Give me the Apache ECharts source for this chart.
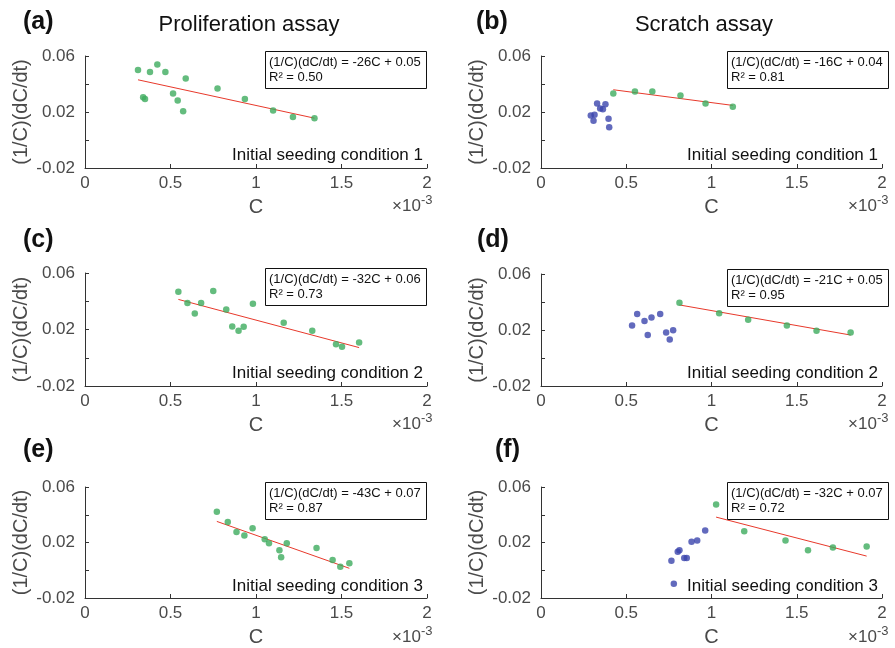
<!DOCTYPE html>
<html><head><meta charset="utf-8">
<script src="https://cdn.jsdelivr.net/npm/echarts@6/dist/echarts.min.js"></script>
<style>html,body{margin:0;padding:0;background:#fff}#c{width:895px;height:648px}</style>
</head><body><div id="c"></div>
<script>
// C values are given in units of 1e-3 (axis shows ×10^-3)
const xTicks = [0, 0.5, 1, 1.5, 2];
const yTicks = [-0.02, 0, 0.02, 0.04, 0.06];
const yLabelsShown = ['-0.02', '0.02', '0.06'];
const panelLetters = ['(a)', '(b)', '(c)', '(d)', '(e)', '(f)'];
const columnTitles = ['Proliferation assay', 'Scratch assay'];
const conditionLabels = ['Initial seeding condition 1', 'Initial seeding condition 1',
  'Initial seeding condition 2', 'Initial seeding condition 2',
  'Initial seeding condition 3', 'Initial seeding condition 3'];
const equations = ['(1/C)(dC/dt) = -26C + 0.05', '(1/C)(dC/dt) = -16C + 0.04',
  '(1/C)(dC/dt) = -32C + 0.06', '(1/C)(dC/dt) = -21C + 0.05',
  '(1/C)(dC/dt) = -43C + 0.07', '(1/C)(dC/dt) = -32C + 0.07'];
const r2Labels = ['R² = 0.50', 'R² = 0.81', 'R² = 0.73', 'R² = 0.95', 'R² = 0.87', 'R² = 0.72'];

const greenA = [[0.310,0.050],[0.380,0.0485],[0.423,0.054],[0.470,0.0485],[0.589,0.044],[0.340,0.0306],[0.351,0.0292],[0.515,0.0333],[0.542,0.0282],[0.574,0.0206],[0.775,0.0368],[0.935,0.0292],[1.100,0.0211],[1.216,0.0165],[1.342,0.0156]];
const blueA = [];
const fitA = [[0.310,0.0430],[1.342,0.0156]];

const blueB = [[0.292,0.0175],[0.314,0.018],[0.308,0.0137],[0.329,0.0261],[0.347,0.0225],[0.363,0.022],[0.378,0.0256],[0.396,0.0151],[0.400,0.0091]];
const greenB = [[0.424,0.0333],[0.551,0.0347],[0.653,0.0347],[0.818,0.0318],[0.965,0.0261],[1.125,0.0237]];
const fitB = [[0.424,0.0359],[1.125,0.0247]];

const greenC = [[0.546,0.0467],[0.599,0.0387],[0.642,0.0314],[0.679,0.0387],[0.750,0.0472],[0.826,0.0342],[0.861,0.0221],[0.898,0.0191],[0.928,0.0219],[0.982,0.0382],[1.162,0.0247],[1.329,0.0191],[1.468,0.0096],[1.503,0.0077],[1.603,0.0108]];
const blueC = [];
const fitC = [[0.546,0.0413],[1.603,0.0072]];

const blueD = [[0.534,0.0233],[0.564,0.0314],[0.607,0.0264],[0.626,0.0164],[0.648,0.0290],[0.699,0.0314],[0.734,0.0183],[0.755,0.0133],[0.775,0.0198]];
const greenD = [[0.812,0.0395],[1.045,0.0319],[1.215,0.0274],[1.442,0.0233],[1.616,0.0195],[1.816,0.0183]];
const fitD = [[0.812,0.0379],[1.816,0.0164]];

const greenE = [[0.771,0.0421],[0.835,0.0348],[0.886,0.0276],[0.932,0.0250],[0.980,0.0302],[1.051,0.0224],[1.076,0.0195],[1.137,0.0145],[1.147,0.0093],[1.180,0.0195],[1.354,0.0160],[1.448,0.0074],[1.493,0.0026],[1.546,0.0050]];
const blueE = [];
const fitE = [[0.771,0.0352],[1.546,0.0014]];

const blueF = [[0.765,0.0069],[0.779,-0.0098],[0.802,0.0133],[0.812,0.0145],[0.840,0.0088],[0.855,0.0088],[0.883,0.0205],[0.916,0.0214],[0.963,0.0286]];
const greenF = [[1.027,0.0474],[1.192,0.0281],[1.434,0.0214],[1.566,0.0145],[1.712,0.0164],[1.910,0.0171]];
const fitF = [[1.027,0.0383],[1.910,0.0102]];

const greens = [greenA, greenB, greenC, greenD, greenE, greenF];
const blues = [blueA, blueB, blueC, blueD, blueE, blueF];
const fits = [fitA, fitB, fitC, fitD, fitE, fitF];

// layout (pixels)
const FONT = 'Liberation Sans, Arial, Helvetica, sans-serif';
const GREEN = '#3dab5e', BLUE = '#3b45ad', RED = '#e8392b';
const AXIS = '#333333', LABEL = '#4a4a4a';
const grids = [
  {left: 85, top: 56, width: 342, height: 112},
  {left: 541, top: 56, width: 341, height: 112},
  {left: 85, top: 273, width: 342, height: 113},
  {left: 541, top: 274, width: 341, height: 112},
  {left: 85, top: 487, width: 342, height: 112},
  {left: 541, top: 487, width: 341, height: 112}
];
const letterPos = [[23, 22], [476, 22], [23, 240], [477, 240], [23, 450], [495, 450]];
const boxLeft = [265, 727];

const option = {
  backgroundColor: '#fff',
  animation: false,
  grid: grids.map(g => ({left: g.left, top: g.top, width: g.width, height: g.height, containLabel: false})),
  xAxis: grids.map((g, i) => ({
    type: 'value', gridIndex: i, min: xTicks[0], max: xTicks[xTicks.length - 1], interval: xTicks[1] - xTicks[0],
    name: 'C', nameLocation: 'middle', nameGap: 29,
    nameTextStyle: {fontFamily: FONT, fontSize: 20, color: LABEL},
    axisLine: {show: true, onZero: false, lineStyle: {color: AXIS, width: 1}},
    axisTick: {show: true, inside: true, length: 4, lineStyle: {color: AXIS}},
    axisLabel: {fontFamily: FONT, fontSize: 17, color: LABEL, margin: 7},
    splitLine: {show: false}
  })),
  yAxis: grids.map((g, i) => ({
    type: 'value', gridIndex: i, min: yTicks[0], max: yTicks[yTicks.length - 1], interval: yTicks[1] - yTicks[0],
    name: '(1/C)(dC/dt)', nameLocation: 'middle', nameGap: 54,
    nameTextStyle: {fontFamily: FONT, fontSize: 20, color: LABEL},
    axisLine: {show: true, onZero: false, lineStyle: {color: AXIS, width: 1}},
    axisTick: {show: true, inside: true, length: 4, lineStyle: {color: AXIS}},
    axisLabel: {fontFamily: FONT, fontSize: 17, color: LABEL, margin: 10,
      formatter: v => { const s = v.toFixed(2); return yLabelsShown.indexOf(s) >= 0 ? s : ''; }},
    splitLine: {show: false}
  })),
  series: [],
  graphic: []
};

for (let i = 0; i < 6; i++) {
  option.series.push({type: 'line', xAxisIndex: i, yAxisIndex: i, data: fits[i], symbol: 'none',
    lineStyle: {color: RED, width: 1}, z: 2, silent: true});
  option.series.push({type: 'scatter', xAxisIndex: i, yAxisIndex: i, data: greens[i], symbolSize: 6.5,
    itemStyle: {color: GREEN}, z: 3});
  if (blues[i].length) option.series.push({type: 'scatter', xAxisIndex: i, yAxisIndex: i, data: blues[i], symbolSize: 6.5,
    itemStyle: {color: BLUE}, z: 3});

  const g = grids[i];
  const col = i % 2;
  const right = g.left + g.width;
  const bottom = g.top + g.height;
  // panel letter
  option.graphic.push({type: 'text', z: 10, style: {text: panelLetters[i], x: letterPos[i][0], y: letterPos[i][1],
    font: 'bold 25px ' + FONT, fill: '#111', textVerticalAlign: 'middle', verticalAlign: 'middle'}});
  // condition label
  option.graphic.push({type: 'text', z: 10, style: {text: conditionLabels[i], x: right - 4, y: bottom - 13,
    font: '17px ' + FONT, fill: '#111', textAlign: 'right', align: 'right', textVerticalAlign: 'middle', verticalAlign: 'middle'}});
  // equation box
  const bx = boxLeft[col], by = g.top - 5;
  option.graphic.push({type: 'rect', z: 10, shape: {x: bx + 0.5, y: by + 0.5, width: 161, height: 37},
    style: {fill: '#fff', stroke: '#111', lineWidth: 1}});
  option.graphic.push({type: 'text', z: 11, style: {text: equations[i], x: bx + 4, y: by + 11,
    font: '13px ' + FONT, fill: '#111', textVerticalAlign: 'middle', verticalAlign: 'middle'}});
  option.graphic.push({type: 'text', z: 11, style: {text: r2Labels[i], x: bx + 4, y: by + 26,
    font: '13px ' + FONT, fill: '#111', textVerticalAlign: 'middle', verticalAlign: 'middle'}});
  // exponent label
  option.graphic.push({type: 'text', z: 10, style: {text: '×10', x: g.left + 307, y: bottom + 47,
    font: '17px ' + FONT, fill: LABEL, textVerticalAlign: 'bottom', verticalAlign: 'bottom'}});
  option.graphic.push({type: 'text', z: 10, style: {text: '-3', x: g.left + 336, y: bottom + 39,
    font: '13px ' + FONT, fill: LABEL, textVerticalAlign: 'bottom', verticalAlign: 'bottom'}});
}
// column titles
option.graphic.push({type: 'text', z: 10, style: {text: columnTitles[0], x: 249, y: 25,
  font: '22px ' + FONT, fill: '#111', textAlign: 'center', align: 'center', textVerticalAlign: 'middle', verticalAlign: 'middle'}});
option.graphic.push({type: 'text', z: 10, style: {text: columnTitles[1], x: 704, y: 25,
  font: '22px ' + FONT, fill: '#111', textAlign: 'center', align: 'center', textVerticalAlign: 'middle', verticalAlign: 'middle'}});

const chart = echarts.init(document.getElementById('c'), null, {renderer: 'canvas'});
chart.setOption(option);
</script>
</body></html>
